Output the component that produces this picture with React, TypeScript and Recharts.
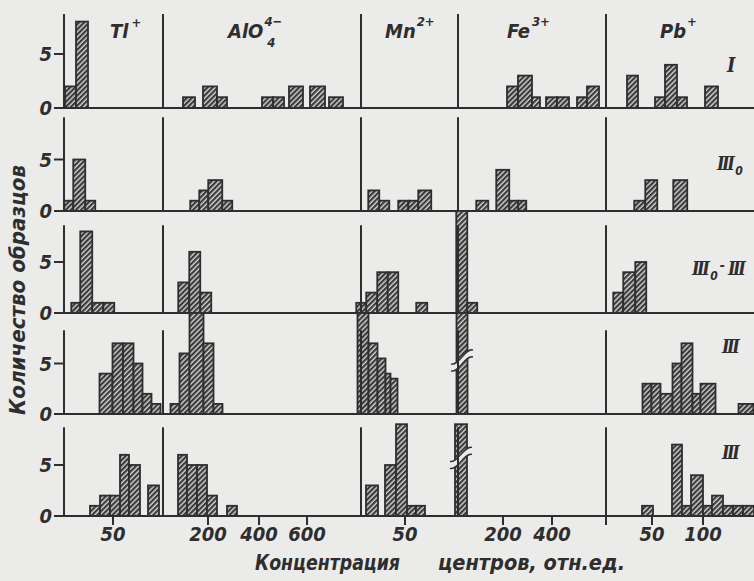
import React from 'react';
import { BarChart, Bar, XAxis, YAxis, ReferenceLine } from 'recharts';

// ---------- data ----------
// Histogram bins per stage row: [binStart, binEnd, numberOfSamples, breakAt?]
// x is the position on the (piecewise) concentration axis, panel units 0..69
type Bin = [number, number, number, number?];

const ROW_I: Bin[] = [
  [0.1, 1.2, 2], [1.2, 2.4, 8],
  [11.9, 13.1, 1], [13.9, 15.3, 2], [15.3, 16.3, 1], [19.8, 20.9, 1], [20.9, 22.0, 1],
  [22.5, 23.9, 2], [24.6, 26.1, 2], [26.5, 27.9, 1],
  [44.3, 45.4, 2], [45.4, 46.8, 3], [46.8, 47.6, 1], [48.2, 49.3, 1], [49.3, 50.5, 1],
  [51.3, 52.3, 1], [52.3, 53.5, 2],
  [56.3, 57.4, 3], [59.1, 60.1, 1], [60.1, 61.3, 4], [61.3, 62.3, 1], [64.1, 65.4, 2],
];

const ROW_III0: Bin[] = [
  [0, 0.9, 1], [0.9, 2.1, 5], [2.1, 3.1, 1],
  [12.6, 13.5, 1], [13.5, 14.4, 2], [14.4, 15.8, 3], [15.8, 16.8, 1],
  [30.4, 31.5, 2], [31.5, 32.5, 1], [33.4, 34.4, 1], [34.4, 35.4, 1], [35.4, 36.7, 2],
  [41.2, 42.4, 1], [43.2, 44.5, 4], [44.5, 45.4, 1], [45.4, 46.2, 1],
  [57.0, 58.1, 1], [58.1, 59.3, 3], [60.9, 62.3, 3],
];

const ROW_III0_III: Bin[] = [
  [0.7, 1.6, 1], [1.6, 2.8, 8], [2.8, 3.9, 1], [3.9, 5.0, 1],
  [11.4, 12.5, 3], [12.5, 13.6, 6], [13.6, 14.7, 2],
  [29.2, 30.2, 1], [30.2, 31.3, 2], [31.3, 32.35, 4], [32.35, 33.4, 4], [35.2, 36.3, 1],
  [39.2, 40.3, 10], [40.3, 41.3, 1],
  [54.9, 55.9, 2], [55.9, 57.1, 4], [57.1, 58.2, 5],
];

const ROW_III_A: Bin[] = [
  [3.5, 4.8, 4], [4.8, 5.85, 7], [5.85, 6.9, 7], [6.9, 7.8, 5], [7.8, 8.7, 2], [8.7, 9.6, 1],
  [10.6, 11.5, 1], [11.5, 12.5, 6], [12.5, 13.9, 10], [13.9, 14.9, 7], [14.9, 15.8, 1],
  [29.3, 30.4, 10], [30.4, 31.3, 7], [31.3, 32.1, 5.5], [32.1, 32.6, 4], [32.6, 33.3, 3.5],
  [39.2, 40.3, 10, 5.3],
  [57.8, 58.7, 3], [58.7, 59.6, 3], [59.6, 60.8, 2], [60.8, 61.7, 5], [61.7, 62.8, 7],
  [62.8, 63.6, 2], [63.6, 65.1, 3], [67.4, 68.9, 1],
];

const ROW_III_B: Bin[] = [
  [2.6, 3.6, 1], [3.6, 4.6, 2], [4.6, 5.6, 2], [5.6, 6.5, 6], [6.5, 7.6, 5], [8.4, 9.5, 3],
  [11.4, 12.3, 6], [12.3, 13.3, 5], [13.3, 14.3, 5], [14.3, 15.3, 2], [16.3, 17.3, 1],
  [30.2, 31.4, 3], [32.1, 33.2, 5], [33.2, 34.3, 9], [34.3, 35.2, 1], [35.2, 36.1, 1],
  [39.1, 40.3, 9, 5.7],
  [57.8, 58.9, 1], [60.8, 61.8, 7], [61.8, 62.7, 1], [62.7, 63.9, 4], [63.9, 64.8, 1],
  [64.8, 65.9, 2], [65.9, 66.9, 1], [66.9, 67.9, 1], [67.9, 69, 1],
];

const ROWS: Bin[][] = [ROW_I, ROW_III0, ROW_III0_III, ROW_III_A, ROW_III_B];

// panel boundaries (Tl | AlO4 | Mn | Fe | Pb) on the common axis
const PANEL_BOUNDS = [0, 9.9, 29.7, 39.4, 54.2];
const PANEL_HEADERS = ['Tl', 'AlO', 'Mn', 'Fe', 'Pb'];

const X_TICKS = [4.9, 14.4, 19.5, 24.3, 34.1, 43.9, 48.8, 54.2, 58.8, 63.9];
const X_TICK_LABELS = ['50', '200', '400', '600', '50', '200', '400', '', '50', '100'];
const Y_TICKS = [0, 5];

// ---------- layout / style ----------
const W = 754;
const H = 581;
const PLOT_LEFT = 64;
const X_MAX = 69;
const PX_PER_UNIT = (W - PLOT_LEFT) / X_MAX;
const BASELINES = [108, 211, 313, 414, 516];
const PLOT_HEIGHTS = [108, 103, 102, 101, 102];
const DIVIDER_TOPS = [8.7, 9.1, 8.6, 8.3, 8.7];

const INK = '#2e2e2e';
const BG = '#ebebea';
const FONT = '"DejaVu Sans Condensed", "Liberation Sans Narrow", "DejaVu Sans", sans-serif';
const SERIF = '"DejaVu Serif Condensed", "DejaVu Serif", serif';

function HistBar(props: any) {
  const { x, y, width, height, payload } = props;
  if (!payload || !height || height <= 0) return null;
  const cx = x + width / 2;
  const bw = payload.w * PX_PER_UNIT;
  const left = cx - bw / 2;
  let brk: React.ReactNode = null;
  if (payload.brk != null) {
    const perUnit = height / payload.v;
    const by = y + height - payload.brk * perUnit;
    const d = `M ${cx - 11} ${by + 7} C ${cx - 3} ${by + 9}, ${cx + 3} ${by - 9}, ${cx + 11} ${by - 7}`;
    brk = (
      <g>
        <path d={d} stroke={BG} strokeWidth={6} fill="none" />
        <path d={d} transform="translate(0,-3.5)" stroke={INK} strokeWidth={1.4} fill="none" />
        <path d={d} transform="translate(0,3.5)" stroke={INK} strokeWidth={1.4} fill="none" />
      </g>
    );
  }
  return (
    <g>
      <rect x={left} y={y} width={bw} height={height} fill="url(#hatch)" stroke={INK} strokeWidth={1.8} />
      {brk}
    </g>
  );
}

function HistRow({ idx }: { idx: number }) {
  const data = ROWS[idx].map(([a, b, v, brk]) => ({ c: (a + b) / 2, w: b - a, v, brk }));
  const last = idx === ROWS.length - 1;
  const axisH = last ? 40 : 16;
  const ph = PLOT_HEIGHTS[idx];
  const topPad = 12;
  const tickStyle = { fontSize: 20, fontStyle: 'italic', fontWeight: 700, fill: INK, fontFamily: FONT };
  return (
    <div style={{ position: 'absolute', left: 0, top: BASELINES[idx] - ph - topPad, width: W, height: ph + axisH + topPad }}>
      <BarChart width={W} height={ph + axisH + topPad} data={data} margin={{ top: topPad, right: 0, bottom: 0, left: 0 }}>
        <XAxis
          type="number"
          dataKey="c"
          domain={[0, X_MAX]}
          allowDataOverflow
          height={axisH}
          axisLine={{ stroke: INK, strokeWidth: 2.2 }}
          ticks={last ? X_TICKS : undefined}
          interval={0}
          tick={last ? tickStyle : false}
          tickLine={last ? { stroke: INK, strokeWidth: 2 } : false}
          tickSize={9}
          tickMargin={2}
          tickFormatter={(v: number) => X_TICK_LABELS[X_TICKS.indexOf(v)] ?? ''}
        />
        <YAxis
          type="number"
          domain={[0, 10]}
          allowDataOverflow
          ticks={Y_TICKS}
          interval={0}
          width={PLOT_LEFT}
          axisLine={false}
          tickLine={{ stroke: INK, strokeWidth: 2 }}
          tickSize={10}
          tickMargin={2}
          tick={tickStyle}
        />
        {PANEL_BOUNDS.map((d) => (
          <ReferenceLine
            key={d}
            segment={[{ x: d, y: 0 }, { x: d, y: DIVIDER_TOPS[idx] }]}
            stroke={INK}
            strokeWidth={2}
          />
        ))}
        <Bar dataKey="v" isAnimationActive={false} barSize={1} shape={(p: any) => <HistBar {...p} />} />
      </BarChart>
    </div>
  );
}

export default function App() {
  const hdr = { fontFamily: FONT, fontStyle: 'italic' as const, fontWeight: 600, fontSize: 20, fill: INK };
  const sup = { fontSize: 13 };
  const stage = {
    fontFamily: SERIF,
    fontStyle: 'italic' as const,
    fontWeight: 700,
    fontSize: 18,
    fill: INK,
    letterSpacing: -2.5,
  };
  const subS = { fontFamily: FONT, fontSize: 12, letterSpacing: 0 };
  return (
    <div style={{ position: 'absolute', left: 0, top: 0, width: W, height: H, background: BG, overflow: 'hidden' }}>
      <svg width={0} height={0} style={{ position: 'absolute' }}>
        <defs>
          <pattern id="hatch" patternUnits="userSpaceOnUse" width={3.6} height={3.6} patternTransform="rotate(45)">
            <rect width={3.6} height={3.6} fill="#d4d4d2" />
            <rect width={2.2} height={3.6} fill="#3a3a3a" />
          </pattern>
        </defs>
      </svg>
      {ROWS.map((_, i) => (
        <HistRow key={i} idx={i} />
      ))}
      <svg width={W} height={H} style={{ position: 'absolute', left: 0, top: 0, pointerEvents: 'none' }}>
        {/* column headers */}
        <text x={110} y={38} {...hdr}>
          {PANEL_HEADERS[0]}
          <tspan dx={3} dy={-11} {...sup}>+</tspan>
        </text>
        <text x={228} y={38} {...hdr}>
          {PANEL_HEADERS[1]}
          <tspan dx={1} dy={-12} {...sup}>4−</tspan>
          <tspan dx={-15} dy={21} {...sup}>4</tspan>
        </text>
        <text x={385} y={38} {...hdr}>
          {PANEL_HEADERS[2]}
          <tspan dx={1} dy={-12} {...sup}>2+</tspan>
        </text>
        <text x={507} y={38} {...hdr}>
          {PANEL_HEADERS[3]}
          <tspan dx={2} dy={-12} {...sup}>3+</tspan>
        </text>
        <text x={660} y={38} {...hdr}>
          {PANEL_HEADERS[4]}
          <tspan dx={1} dy={-12} {...sup}>+</tspan>
        </text>

        {/* stage labels */}
        <text x={727} y={72} {...stage} fontSize={20} letterSpacing={0}>I</text>
        <text x={717} y={170} {...stage}>
          III
          <tspan dx={3} dy={5} {...subS}>0</tspan>
        </text>
        <text x={692} y={275} {...stage}>
          III
          <tspan dx={3} dy={5} {...subS}>0</tspan>
          <tspan dx={2} dy={-10} {...subS} fontSize={14}>-</tspan>
          <tspan dx={3} dy={5}>III</tspan>
        </text>
        <text x={722} y={353} {...stage}>III</text>
        <text x={722} y={459} {...stage}>III</text>

        {/* axis titles */}
        <text
          transform="translate(25,290) rotate(-90)"
          textAnchor="middle"
          fontFamily={FONT}
          fontStyle="italic"
          fontWeight={700}
          fontSize={21}
          fill={INK}
          textLength={250}
          lengthAdjust="spacingAndGlyphs"
        >
          Количество образцов
        </text>
        <text x={255} y={570} fontFamily={FONT} fontStyle="italic" fontWeight={700} fontSize={21} fill={INK} textLength={145} lengthAdjust="spacingAndGlyphs">
          Концентрация
        </text>
        <text x={438} y={570} fontFamily={FONT} fontStyle="italic" fontWeight={700} fontSize={21} fill={INK} textLength={187} lengthAdjust="spacingAndGlyphs">
          центров, отн.ед.
        </text>
      </svg>
    </div>
  );
}
